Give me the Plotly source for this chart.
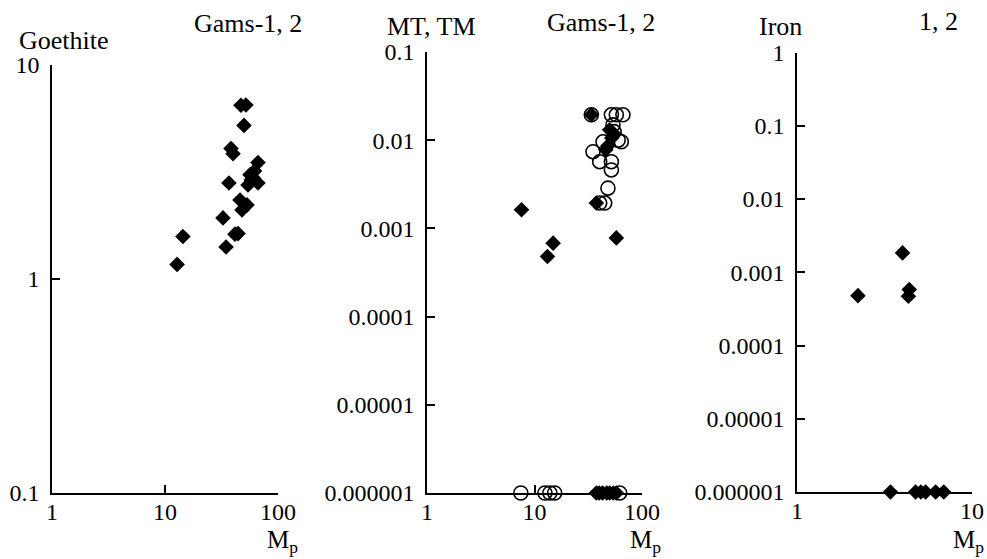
import plotly.graph_objects as go

# ---- Data ----
# Panel 1: Goethite vs Mp (Gams-1, 2)
goe_x = [12.8, 14.4, 34.7, 32.6, 41.6, 44.3, 46.1, 53.2, 48.0, 36.8, 54.3, 66.5, 56.5, 66.5, 60.0, 38.4, 40.0, 50.0, 47.0, 52.0, 58.0, 62.0]
goe_y = [1.17, 1.58, 1.41, 1.93, 1.62, 1.63, 2.34, 2.22, 2.10, 2.81, 2.75, 2.81, 3.07, 3.5, 2.97, 4.07, 3.85, 5.22, 6.48, 6.5, 2.9, 3.2]

# Panel 2: MT, TM vs Mp (Gams-1 filled, Gams-2 open); zeros shown at 1e-6
mt1_x = [7.57, 14.9, 13.2, 57.7, 37.6, 33.8, 50.0, 52.3, 48.0, 54.6, 46.0,
         37.6, 40.0, 43.0, 47.0, 50.0, 54.0, 57.7]
mt1_y = [0.00163, 0.00068, 0.00048, 0.00078, 0.00194, 0.0194, 0.0131, 0.0106, 0.0086, 0.0118, 0.0078,
         1e-6, 1e-6, 1e-6, 1e-6, 1e-6, 1e-6, 1e-6]
mt2_x = [33.8, 51.9, 57.7, 66.5, 53.7, 43.4, 64.2, 35.0, 40.4, 51.9, 51.9, 48.2, 45.0, 40.4, 55.0, 60.0,
         7.46, 12.5, 13.9, 15.4, 62.0]
mt2_y = [0.0194, 0.0194, 0.0194, 0.0194, 0.0149, 0.0096, 0.0096, 0.0074, 0.0057, 0.0057, 0.0046, 0.00286, 0.00194, 0.00194, 0.0125, 0.0100,
         1e-6, 1e-6, 1e-6, 1e-6, 1e-6]

# Panel 3: Iron vs Mp (1, 2); zeros shown at 1e-6
fe_x = [4.01, 2.23, 4.38, 4.33, 3.42, 4.76, 5.1, 5.43, 6.2, 6.9]
fe_y = [0.00184, 0.00048, 0.00058, 0.00047, 1e-6, 1e-6, 1e-6, 1e-6, 1e-6, 1e-6]

# Tick labels
p1_yvals = [0.1, 1, 10]
p1_ytext = ["0.1", "1", "10"]
p2_yvals = [1e-6, 1e-5, 1e-4, 1e-3, 1e-2, 1e-1]
p2_ytext = ["0.000001", "0.00001", "0.0001", "0.001", "0.01", "0.1"]
p3_yvals = [1e-6, 1e-5, 1e-4, 1e-3, 1e-2, 1e-1, 1]
p3_ytext = ["0.000001", "0.00001", "0.0001", "0.001", "0.01", "0.1", "1"]
x100_vals = [1, 10, 100]
x100_text = ["1", "10", "100"]
x10_vals = [1, 10]
x10_text = ["1", "10"]

W, H = 987, 559
FONT = "'Liberation Serif', 'Times New Roman', Times, serif"

fig = go.Figure()

dia = dict(symbol="diamond", size=12, color="black", line=dict(width=0))
circ = dict(symbol="circle-open", size=14, color="black", line=dict(width=1.6, color="black"))

fig.add_trace(go.Scatter(x=goe_x, y=goe_y, mode="markers", marker=dia, xaxis="x", yaxis="y", cliponaxis=False))
fig.add_trace(go.Scatter(x=mt2_x, y=mt2_y, mode="markers", marker=circ, xaxis="x2", yaxis="y2", cliponaxis=False))
fig.add_trace(go.Scatter(x=mt1_x, y=mt1_y, mode="markers", marker=dia, xaxis="x2", yaxis="y2", cliponaxis=False))
fig.add_trace(go.Scatter(x=fe_x, y=fe_y, mode="markers", marker=dia, xaxis="x3", yaxis="y3", cliponaxis=False))

def px(x):
    return x / W

def py(y):
    return 1 - y / H

axis_common = dict(type="log", showline=True, linecolor="black", linewidth=1.5,
                   ticks="inside", ticklen=8, tickwidth=1.5, tickcolor="black",
                   showgrid=False, zeroline=False, automargin=False,
                   tickfont=dict(family=FONT, size=24, color="black"))
xcommon = dict(axis_common, ticklabelstandoff=-4)
ycommon = dict(axis_common, ticklabelstandoff=6)

fig.update_layout(
    width=W, height=H,
    margin=dict(l=0, r=0, t=0, b=0, pad=0, autoexpand=False),
    paper_bgcolor="white", plot_bgcolor="white",
    showlegend=False,
    xaxis=dict(xcommon, domain=[px(52), px(278)], range=[0, 2], tickvals=x100_vals, ticktext=x100_text, anchor="y"),
    yaxis=dict(ycommon, domain=[py(493), py(65)], range=[-1, 1], tickvals=p1_yvals, ticktext=p1_ytext, anchor="x"),
    xaxis2=dict(xcommon, domain=[px(427), px(642)], range=[0, 2], tickvals=x100_vals, ticktext=x100_text, anchor="y2"),
    yaxis2=dict(ycommon, domain=[py(493), py(52)], range=[-6, -1], tickvals=p2_yvals, ticktext=p2_ytext, anchor="x2"),
    xaxis3=dict(xcommon, domain=[px(797), px(972)], range=[0, 1], tickvals=x10_vals, ticktext=x10_text, anchor="y3"),
    yaxis3=dict(ycommon, domain=[py(492), py(52.6)], range=[-6, 0], tickvals=p3_yvals, ticktext=p3_ytext, anchor="x3"),
)

def ann(text, x, y, xanchor="left", yanchor="middle", size=26):
    fig.add_annotation(text=text, x=px(x), y=py(y), xref="paper", yref="paper",
                       xanchor=xanchor, yanchor=yanchor, showarrow=False,
                       font=dict(family=FONT, size=size, color="black"))

ann("Goethite", 17, 40)
ann("Gams-1, 2", 192, 23)
ann("MT, TM", 385, 27)
ann("Gams-1, 2", 545, 22)
ann("Iron", 757, 27)
ann("1, 2", 917, 21)
ann("M<sub>p</sub>", 300, 524, xanchor="right", yanchor="top", size=25)
ann("M<sub>p</sub>", 663, 524, xanchor="right", yanchor="top", size=25)
ann("M<sub>p</sub>", 986, 524, xanchor="right", yanchor="top", size=25)

fig.write_html("out.html")
